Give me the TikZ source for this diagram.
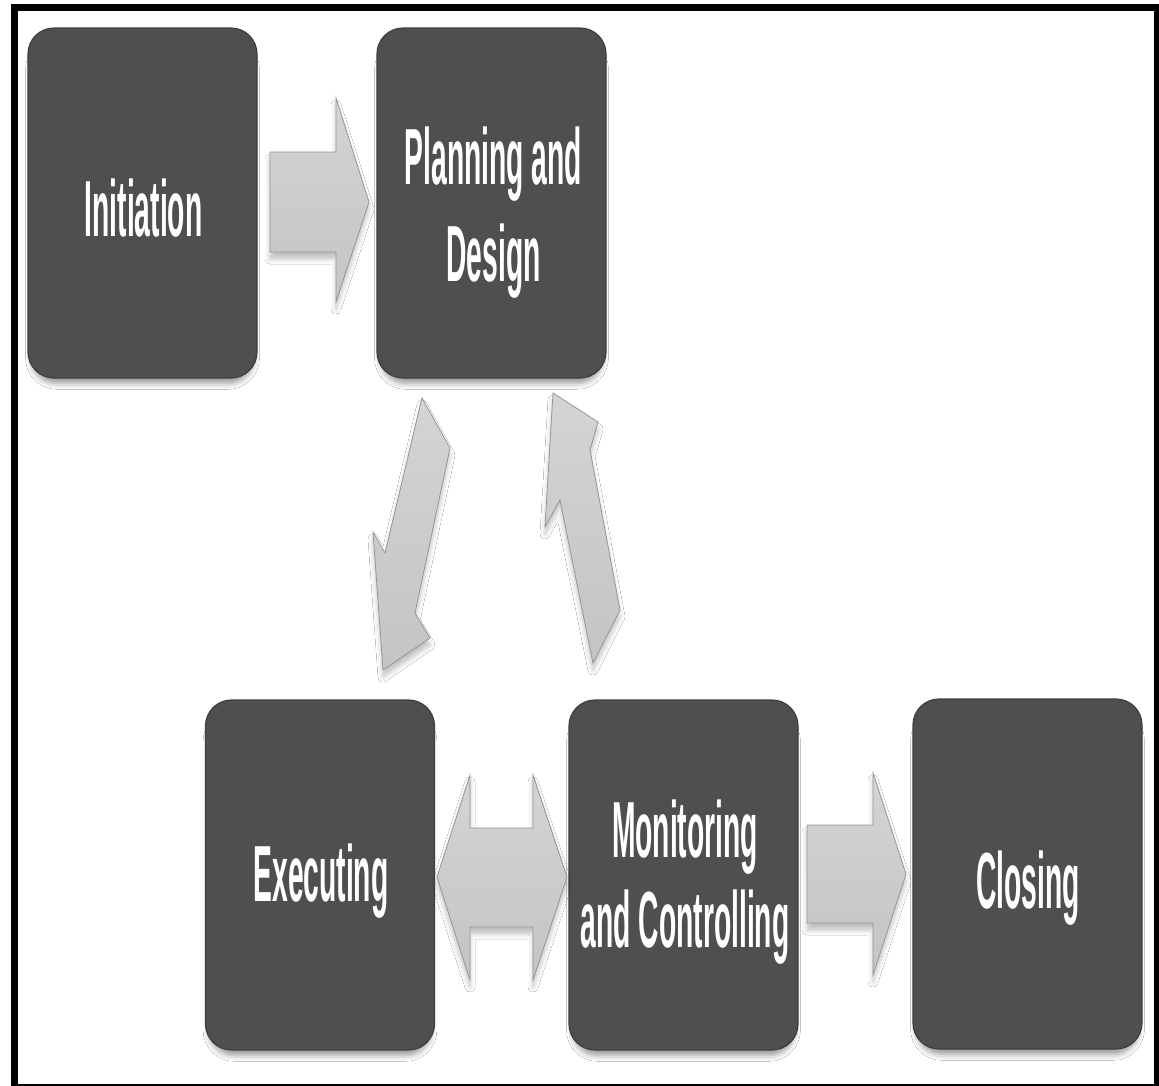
\documentclass[tikz,border=0pt]{standalone}
\usepackage{fontspec}
\newfontfamily\stagefont[FakeStretch=0.355]{Liberation Sans Bold}
\usetikzlibrary{shadows.blur}
\definecolor{boxgray}{RGB}{79,79,79}
\definecolor{boxedge}{RGB}{62,62,62}
\definecolor{arrowlight}{RGB}{212,212,212}
\definecolor{arrowdark}{RGB}{196,196,196}
\definecolor{arrowedge}{RGB}{150,150,150}
\begin{document}
\begin{tikzpicture}[x=1pt,y=-1pt,
  stage/.style={draw=boxedge, line width=1.2pt, fill=boxgray, rounded corners=26pt,
    minimum width=229pt, minimum height=350pt, inner sep=0pt,
    blur shadow={shadow xshift=0pt, shadow yshift=-11pt, shadow scale=0.97,
      shadow blur radius=6pt, shadow opacity=40}},
  stagetext/.style={text=white, align=center, inner sep=0pt,
    font=\stagefont\fontsize{79.6}{97}\selectfont},
  blockarrow/.style={top color=arrowlight, bottom color=arrowdark, draw=arrowedge,
    line width=0.8pt, line join=miter,
    blur shadow={shadow xshift=0pt, shadow yshift=-7pt, shadow blur radius=5pt, shadow opacity=25}}
]
\clip (0,0) rectangle (1159,1085);
\fill[white] (0,0) rectangle (1159,1085);

% stages
\node[stage] (init)  at (142.5,203) {};
\node[stage] (plan)  at (491.5,203) {};
\node[stage] (exec)  at (320,875) {};
\node[stage] (mon)   at (683.5,875) {};
\node[stage] (close) at (1027.5,874) {};

\node[stagetext] (initT)  at ([xshift=1pt,yshift=-5.5pt]init.center) {Initiation};
\node[stagetext] (planT)  at ([xshift=2pt,yshift=-10pt]plan.center) {Planning and\\Design};
\node[stagetext] (execT)  at ([xshift=1pt,yshift=-6.5pt]exec.center) {Executing};
\node[stagetext, font=\stagefont\fontsize{79.6}{90}\selectfont] (monT) at ([xshift=1.5pt,yshift=-7pt]mon.center) {Monitoring\\and Controlling};
\node[stagetext] (closeT) at ([xshift=0.5pt,yshift=-14pt]close.center) {Closing};

% block arrows
\path[blockarrow] (270,152) -- (336,152) -- (336,98) -- (369,202) -- (336,302) -- (336,252) -- (270,252) -- cycle;
\path[blockarrow] (437,877) -- (470,775) -- (470,828) -- (533,828) -- (533,775) -- (567,877)
  -- (533,980) -- (533,927) -- (470,927) -- (470,980) -- cycle;
\path[blockarrow] (807,825) -- (873,825) -- (873,773) -- (906,874) -- (873,975) -- (873,923) -- (807,923) -- cycle;
\path[blockarrow] (422,398) -- (450,448) -- (415,613) -- (430,638) -- (383,670) -- (373,532) -- (385,553) -- cycle;
\path[blockarrow] (553,393) -- (598,422) -- (590,450) -- (620,610) -- (593,663) -- (560,500) -- (545,527) -- cycle;

% frame
\draw[line width=7pt] (14.5,7.5) rectangle (1157.5,1087.5);
\end{tikzpicture}
\end{document}
